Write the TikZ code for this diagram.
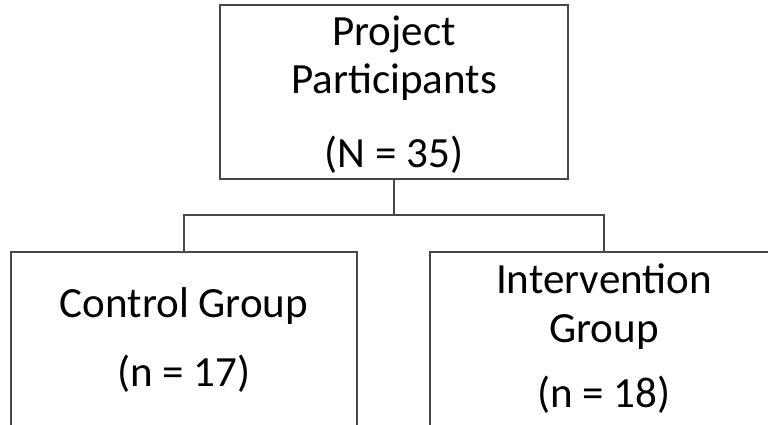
\documentclass[tikz,border=0pt]{standalone}
\usepackage{fontspec}
\setmainfont{Carlito}
\begin{document}
\begin{tikzpicture}[x=0.75pt,y=-0.75pt,
  box/.style={draw=black!72, line width=1.1pt, rectangle, inner sep=0pt},
  link/.style={draw=black!72, line width=1.1pt},
  lbl/.style={anchor=base, inner sep=0pt, font=\fontsize{32.3}{39}\selectfont}]
\useasboundingbox (0,0) rectangle (768,425);
\clip (0,0) rectangle (768,425);

% boxes
\node[box, minimum width=261pt, minimum height=130.5pt] (top) at (394,92) {};
\node[box, minimum width=259.5pt, minimum height=144.75pt] (ctrl) at (184,348.5) {};
\node[box, minimum width=261pt, minimum height=144.75pt] (intv) at (604,348.5) {};

% labels
\node[lbl] (topA) at (394,45) {Project};
\node[lbl] (topB) at (394,93) {Participants};
\node[lbl] (topC) at (394,167) {(N = 35)};
\node[lbl] (ctrlA) at (184,317) {Control Group};
\node[lbl] (ctrlB) at (184,386) {(n = 17)};
\node[lbl] (intvA) at (604,293) {Intervention};
\node[lbl] (intvB) at (604,342) {Group};
\node[lbl] (intvC) at (604,407) {(n = 18)};

% connectors
\coordinate (split) at (394,215);
\draw[link] (top.south) -- (split);
\draw[link] (split) -| (ctrl.north);
\draw[link] (split) -| (intv.north);
\end{tikzpicture}
\end{document}
